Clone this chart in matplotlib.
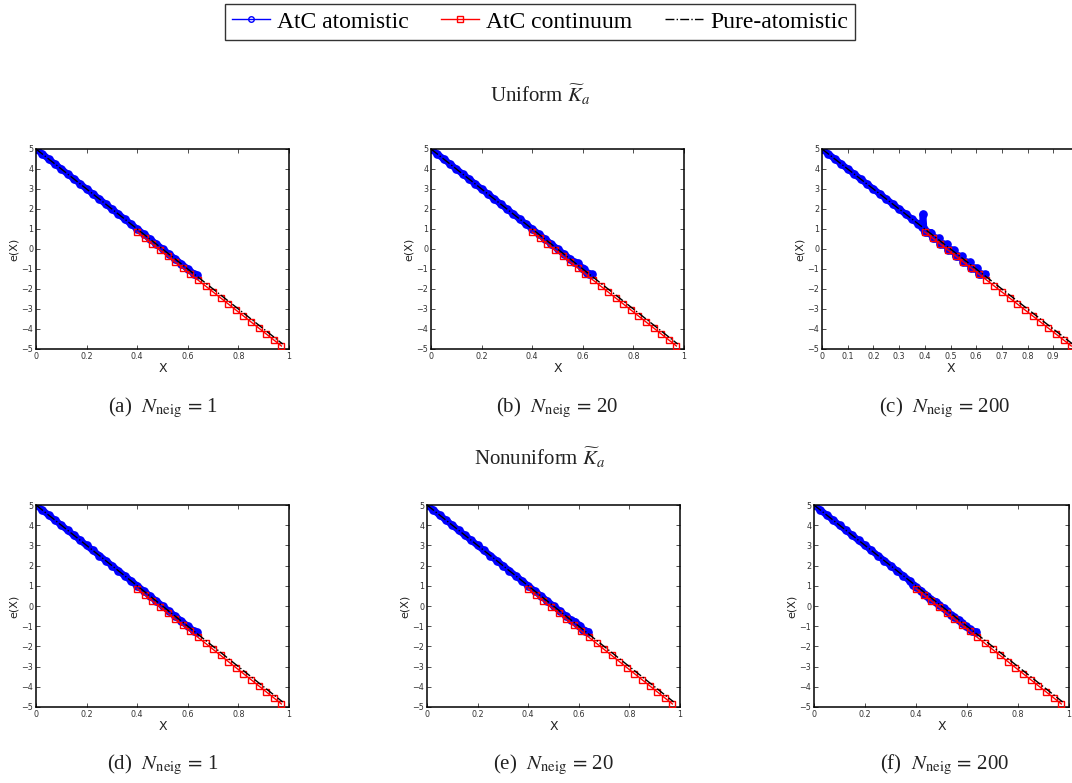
import matplotlib
matplotlib.use("Agg")
import matplotlib.pyplot as plt
from matplotlib.lines import Line2D

plt.rcParams["mathtext.fontset"] = "stix"

# shared straight part of the atomistic region
X_HEAD = [0.0, 0.025, 0.05, 0.075, 0.1, 0.125, 0.15, 0.175, 0.2, 0.225, 0.25,
          0.275, 0.3, 0.325, 0.35, 0.375]
Y_HEAD = [5.0, 4.75, 4.5, 4.25, 4.0, 3.75, 3.5, 3.25, 3.0, 2.75, 2.5,
          2.25, 2.0, 1.75, 1.5, 1.25]

# atomistic tails per panel
TAIL_A_X = [0.40, 0.425, 0.45, 0.475, 0.50, 0.525, 0.55, 0.575, 0.60, 0.625, 0.635]
TAIL_A_Y = [1.0, 0.75, 0.5, 0.25, 0.0, -0.25, -0.5, -0.75, -1.0, -1.25, -1.3]

TAIL_B_X = [0.40, 0.425, 0.45, 0.475, 0.50, 0.525, 0.55, 0.565, 0.58, 0.595,
            0.605, 0.615, 0.625, 0.635]
TAIL_B_Y = [1.0, 0.75, 0.5, 0.25, 0.0, -0.25, -0.5, -0.65, -0.7, -0.95,
            -1.0, -1.2, -1.25, -1.27]

TAIL_C_X = [0.39, 0.393, 0.397, 0.40, 0.41, 0.42, 0.425, 0.43, 0.44, 0.455,
            0.46, 0.47, 0.485, 0.49, 0.50, 0.515, 0.52, 0.53, 0.545, 0.55,
            0.56, 0.575, 0.58, 0.59, 0.605, 0.61, 0.62, 0.635]
TAIL_C_Y = [1.1, 1.75, 1.0, 0.85, 0.83, 0.82, 0.82, 0.55, 0.53, 0.53,
            0.25, 0.23, 0.23, -0.05, -0.07, -0.07, -0.35, -0.37, -0.37, -0.65,
            -0.67, -0.67, -0.95, -0.97, -0.97, -1.25, -1.27, -1.27]

TAIL_E_X = [0.40, 0.425, 0.45, 0.475, 0.50, 0.525, 0.55, 0.57, 0.585, 0.595,
            0.605, 0.615, 0.625, 0.635]
TAIL_E_Y = [1.0, 0.75, 0.5, 0.25, 0.0, -0.25, -0.5, -0.7, -0.77, -0.95,
            -1.0, -1.2, -1.25, -1.27]

TAIL_F_X = [0.387, 0.40, 0.42, 0.43, 0.445, 0.455, 0.48, 0.49, 0.51, 0.52,
            0.537, 0.55, 0.57, 0.58, 0.597, 0.61, 0.62, 0.635]
TAIL_F_Y = [1.04, 0.95, 0.76, 0.6, 0.49, 0.35, 0.21, 0.05, -0.1, -0.25,
            -0.44, -0.55, -0.7, -0.85, -1.0, -1.15, -1.24, -1.27]

# continuum nodes
X_CONT = [0.40, 0.43, 0.46, 0.49, 0.52, 0.55, 0.58, 0.61, 0.64, 0.67,
          0.70, 0.73, 0.76, 0.79, 0.82, 0.85, 0.88, 0.91, 0.94, 0.97]
Y_CONT = [0.85, 0.55, 0.25, -0.05, -0.35, -0.65, -0.95, -1.25, -1.55, -1.85,
          -2.15, -2.45, -2.75, -3.05, -3.35, -3.65, -3.95, -4.25, -4.55, -4.85]

# pure atomistic reference
X_PURE = [0.0, 0.975]
Y_PURE = [5.0, -4.75]

PANELS = [
    ("(a)", "1", TAIL_A_X, TAIL_A_Y),
    ("(b)", "20", TAIL_B_X, TAIL_B_Y),
    ("(c)", "200", TAIL_C_X, TAIL_C_Y),
    ("(d)", "1", TAIL_A_X, TAIL_A_Y),
    ("(e)", "20", TAIL_E_X, TAIL_E_Y),
    ("(f)", "200", TAIL_F_X, TAIL_F_Y),
]

W, H = 1072, 783
# axes boxes in pixels: left, top, right, bottom
BOXES = [
    (36, 149, 289, 349), (431, 149, 684, 349), (822, 149, 1079, 349),
    (36, 505, 289, 707), (427, 505, 680, 707), (814, 505, 1069, 707),
]
CAPTION_X = [163, 557, 945, 163, 553, 945]

fig = plt.figure(figsize=(W / 100, H / 100), dpi=100)
SERIF = ["Liberation Serif", "DejaVu Serif"]

for i, ((tag, n, tx, ty), (l, t, r, b)) in enumerate(zip(PANELS, BOXES)):
    ax = fig.add_axes([l / W, 1 - b / H, (r - l) / W, (b - t) / H])
    ax.plot(X_HEAD + tx, Y_HEAD + ty, "-o", color="blue", lw=4.8, ms=5.2,
            mfc="blue", mec="blue", zorder=2)
    ax.plot(X_CONT, Y_CONT, "-s", color="red", lw=1.0, ms=4.5, mfc="none",
            mec="red", mew=1.0, zorder=3)
    ax.plot(X_PURE, Y_PURE, "-.", color="black", lw=1.0, zorder=4)
    ax.set_xlim(0, 1)
    ax.set_ylim(-5, 5)
    ax.set_yticks(range(-5, 6))
    if i == 2:
        ax.set_xticks([k / 10 for k in range(11)])
        ax.set_xticklabels(["0"] + [f"{k / 10:g}" for k in range(1, 10)] + [""])
    else:
        ax.set_xticks([0, 0.2, 0.4, 0.6, 0.8, 1])
        ax.set_xticklabels(["0", "0.2", "0.4", "0.6", "0.8", "1"])
    ax.tick_params(direction="in", length=3, width=0.6, labelsize=5.8,
                   top=True, right=True, pad=2, colors="#333333")
    for sp in ax.spines.values():
        sp.set_linewidth(1.1)
    ax.set_xlabel("X", fontsize=9, labelpad=1, color="#222222")
    ax.set_ylabel("e(X)", fontsize=8, labelpad=2, color="#222222")
    cy = 408 if i < 3 else 765
    fig.text(CAPTION_X[i] / W, 1 - cy / H,
             tag + r"  $N_{\mathrm{neig}}\,=\,$" + n,
             ha="center", va="center", fontsize=15, family=SERIF,
             color="#222222")

fig.text(540 / W, 1 - 95 / H, r"Uniform $\widetilde{K}_a$", ha="center",
         va="center", fontsize=15, family=SERIF, color="#222222")
fig.text(540 / W, 1 - 458 / H, r"Nonuniform $\widetilde{K}_a$", ha="center",
         va="center", fontsize=15, family=SERIF, color="#222222")

handles = [
    Line2D([], [], color="blue", lw=1.0, marker="o", ms=4, mfc="none"),
    Line2D([], [], color="red", lw=1.0, marker="s", ms=4.5, mfc="none"),
    Line2D([], [], color="black", lw=1.0, ls="-."),
]
labels = ["AtC atomistic", "AtC continuum", "Pure-atomistic"]
leg = fig.legend(handles, labels, loc="center", ncol=3,
                 bbox_to_anchor=(540 / W, 1 - 22 / H), frameon=True,
                 fancybox=False, edgecolor="black", handlelength=1.6,
                 columnspacing=1.4, handletextpad=0.3, borderpad=0.3,
                 prop={"family": SERIF, "size": 17})
leg.get_frame().set_linewidth(1.0)

fig.savefig("out.png", dpi=100)
